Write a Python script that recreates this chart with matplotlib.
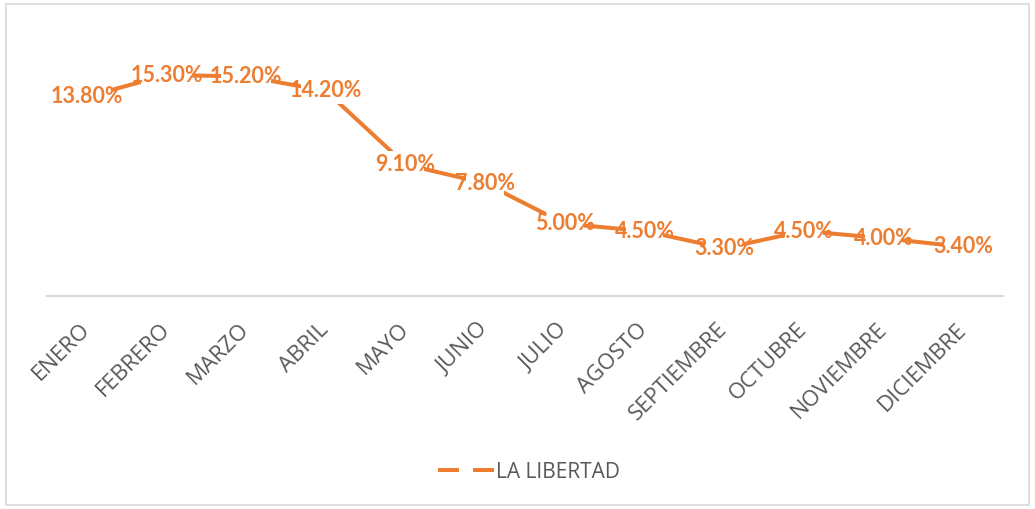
import matplotlib
matplotlib.use('Agg')
import matplotlib.pyplot as plt
from matplotlib.patches import Rectangle
from matplotlib.lines import Line2D
from matplotlib.transforms import IdentityTransform

# ---- data ----
months = ["ENERO", "FEBRERO", "MARZO", "ABRIL", "MAYO", "JUNIO", "JULIO",
          "AGOSTO", "SEPTIEMBRE", "OCTUBRE", "NOVIEMBRE", "DICIEMBRE"]
values = [13.8, 15.3, 15.2, 14.2, 9.1, 7.8, 5.0, 4.5, 3.3, 4.5, 4.0, 3.4]
series_name = "LA LIBERTAD"

ORANGE = "#ED7D31"
GRAY = "#595959"
LIGHT = "#D9D9D9"

W, H = 1035, 509
fig = plt.figure(figsize=(W / 100, H / 100), dpi=100)
fig.patch.set_facecolor("white")

ax = fig.add_axes([47 / W, 1 - 296 / H, (1003 - 47) / W, (296 - 36) / H])
xs = list(range(len(months)))
ax.plot(xs, values, color=ORANGE, lw=2.9, solid_capstyle="round",
        solid_joinstyle="round", zorder=2)
ax.set_xlim(-0.5, len(months) - 0.5)
ax.set_ylim(0, 18)
ax.set_yticks([])
for s in ["left", "right", "top"]:
    ax.spines[s].set_visible(False)
ax.spines["bottom"].set_color(LIGHT)
ax.spines["bottom"].set_linewidth(1.5)
ax.set_xticks(xs)
ax.set_xticklabels(months, rotation=45, ha="right", va="center",
                   rotation_mode="anchor", fontsize=16, color=GRAY,
                   family="Open Sans")
ax.tick_params(axis="x", length=0, pad=22)

texts = []
for xi, v in zip(xs, values):
    t = ax.text(xi, v, f"{v:.2f}%", ha="center", va="center",
                fontsize=15.5, fontweight="bold", color=ORANGE,
                family="Lato", zorder=4)
    texts.append(t)

fig.canvas.draw()
r = fig.canvas.get_renderer()
for t in texts:
    bb = t.get_window_extent(r)
    cx = (bb.x0 + bb.x1) / 2
    cy = (bb.y0 + bb.y1) / 2
    w = bb.width - 22
    h = 27
    ax.add_patch(Rectangle((cx - w / 2, cy - h / 2), w, h,
                           transform=IdentityTransform(), fc="white",
                           ec="none", zorder=3, clip_on=False))

handle = Line2D([], [], color=ORANGE, lw=2.9, dashes=(5.2, 3.5))
fig.legend([handle], [series_name], loc="center",
           bbox_to_anchor=(529 / W, 1 - 472 / H), frameon=False,
           handlelength=2.7, handletextpad=0.1,
           prop={"family": "Open Sans", "size": 15}, labelcolor=GRAY)

fig.add_artist(Rectangle((6 / W, 4 / H), (1029 - 6) / W, (505 - 4) / H,
                         transform=fig.transFigure, fill=False, ec=LIGHT,
                         lw=1.2))

fig.savefig("out.png", dpi=100)
